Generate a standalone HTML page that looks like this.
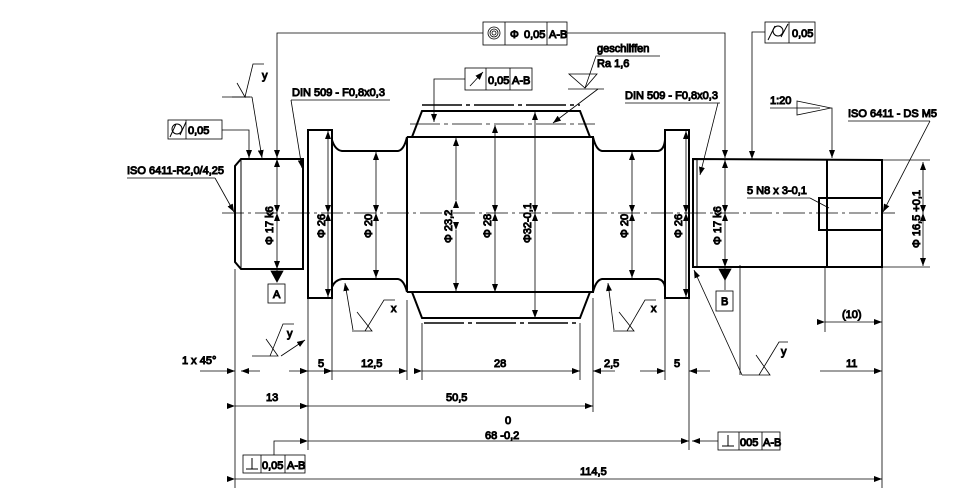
<!DOCTYPE html>
<html><head><meta charset="utf-8"><style>
html,body{margin:0;padding:0;background:#fff}
svg{display:block}
text{font-family:"Liberation Sans",sans-serif;font-size:11px;font-weight:normal;fill:#111}
</style></head><body>
<svg width="970" height="500" viewBox="0 0 970 500" xmlns="http://www.w3.org/2000/svg">
<defs>
<marker id="a" markerWidth="8" markerHeight="6" refX="8" refY="3" orient="auto" markerUnits="userSpaceOnUse"><path d="M0,0 L8,3 L0,6z" fill="#000"/></marker>
</defs>
<g fill="none" stroke="#000">
<line x1="222" y1="213" x2="895" y2="213" stroke-width="0.8" stroke-dasharray="22,4,3,4"/>
<g stroke-width="2">
<path d="M241,159 L303,159 L303,269 L241,269 L235,262 L235,166 Z"/>
<line x1="241" y1="159" x2="241" y2="269" stroke-width="1"/>
<rect x="308" y="130" width="24" height="168"/>
<path d="M332,140 Q335,150 342,151 L398,151 Q404,150 407,137 L407,292 Q404,280 398,279 L342,279 Q335,280 332,287"/>
<path d="M407,137 L593,137 L593,292 L407,292"/>
<path d="M412,137 L422,111 L580,111 L590,137"/>
<path d="M412,292 L422,318 L580,318 L590,292"/>
<path d="M593,137 Q596,150 602,151 L658,151 Q664,150 665,140"/>
<path d="M593,292 Q596,280 602,279 L658,279 Q664,280 665,287"/>
<rect x="665" y="130" width="24" height="168"/>
<path d="M693,159 L882,160 L882,267 L693,267 Z"/>
<line x1="827" y1="160" x2="827" y2="267"/>
<rect x="819" y="198" width="63" height="32"/>
</g>
<line x1="697" y1="159" x2="697" y2="267" stroke-width="1"/>
<line x1="422" y1="105" x2="580" y2="105" stroke-width="1.5" stroke-dasharray="40,4,4,4"/>
<line x1="410" y1="124" x2="595" y2="124" stroke-width="0.8" stroke-dasharray="30,4,4,4"/>
<line x1="424" y1="323" x2="580" y2="323" stroke-width="1.5" stroke-dasharray="40,4,4,4"/>
<g stroke-width="0.8" marker-start="url(#a)" marker-end="url(#a)">
<line x1="277" y1="213" x2="277" y2="159"/>
<line x1="277" y1="213" x2="277" y2="269"/>
<line x1="328" y1="213" x2="328" y2="131"/>
<line x1="328" y1="213" x2="328" y2="297"/>
<line x1="376" y1="213" x2="376" y2="152"/>
<line x1="376" y1="213" x2="376" y2="278"/>
<line x1="495" y1="213" x2="495" y2="125"/>
<line x1="495" y1="213" x2="495" y2="292"/>
<line x1="535" y1="213" x2="535" y2="112"/>
<line x1="535" y1="213" x2="535" y2="318"/>
<line x1="632" y1="213" x2="632" y2="152"/>
<line x1="632" y1="213" x2="632" y2="278"/>
<line x1="686" y1="213" x2="686" y2="131"/>
<line x1="686" y1="213" x2="686" y2="297"/>
<line x1="725" y1="213" x2="725" y2="160"/>
<line x1="725" y1="213" x2="725" y2="267"/>
<line x1="923" y1="213" x2="923" y2="162"/>
<line x1="923" y1="213" x2="923" y2="266"/>
<line x1="456" y1="200" x2="456" y2="138"/>
<line x1="456" y1="230" x2="456" y2="291"/>
</g>
<line x1="882" y1="160" x2="930" y2="160" stroke-width="0.8"/>
<line x1="882" y1="267" x2="930" y2="267" stroke-width="0.8"/>
<g stroke-width="0.8">
<polyline points="483,33 277,33 277,158" marker-end="url(#a)"/>
<polyline points="567,33 725,33 725,158" marker-end="url(#a)"/>
<rect x="483" y="22" width="84" height="23"/>
<line x1="505" y1="22" x2="505" y2="45"/><line x1="547" y1="22" x2="547" y2="45"/>
<circle cx="494" cy="33" r="6"/><circle cx="494" cy="33" r="4"/><circle cx="494" cy="33" r="2"/>
<rect x="465" y="68" width="67" height="22"/>
<line x1="486" y1="68" x2="486" y2="90"/><line x1="510" y1="68" x2="510" y2="90"/>
<line x1="470" y1="86" x2="483" y2="72" marker-end="url(#a)"/>
<polyline points="465,79 434,79 434,122" marker-end="url(#a)"/>
<rect x="765" y="22" width="50" height="21"/><line x1="789" y1="22" x2="789" y2="43"/>
<polyline points="765,32 752,32 752,159" marker-end="url(#a)"/>
<rect x="168" y="120" width="54" height="19"/><line x1="186" y1="120" x2="186" y2="139"/>
<polyline points="222,130 249,130 249,158" marker-end="url(#a)"/>
<line x1="291" y1="100" x2="390" y2="100"/>
<line x1="291" y1="100" x2="302" y2="168" marker-end="url(#a)"/>
<line x1="625" y1="103" x2="720" y2="103"/>
<line x1="718" y1="103" x2="700" y2="175" marker-end="url(#a)"/>
<line x1="127" y1="178" x2="215" y2="178"/>
<line x1="215" y1="178" x2="234" y2="212" marker-end="url(#a)"/>
<line x1="848" y1="121" x2="930" y2="121"/>
<line x1="930" y1="121" x2="883" y2="212" marker-end="url(#a)"/>
<line x1="747" y1="198" x2="810" y2="198"/><line x1="810" y1="198" x2="829" y2="208"/>
<!-- left top y symbol -->
<polyline points="232,97 250,97"/>
<polyline points="237,83 245,97 253,64 264,64"/>
<line x1="252" y1="97" x2="262" y2="158" marker-end="url(#a)"/>
<line x1="222" y1="97" x2="252" y2="97"/>
<path d="M569,74 L597,74 L585,88 Z"/>
<polyline points="585,88 596,56 660,56"/>
<line x1="568" y1="89" x2="604" y2="89"/>
<line x1="598" y1="89" x2="553" y2="123" marker-end="url(#a)"/>
<polyline points="770,108 820,108"/>
<path d="M797,101 L831,108 L797,115 Z"/>
<polyline points="831,108 832,108 832,158" marker-end="url(#a)"/>
<polyline points="352,331 372,331 357,312"/><polyline points="365,331 384,300 395,300"/>
<line x1="353" y1="330" x2="345" y2="283" marker-end="url(#a)"/>
<polyline points="613,331 634,331 619,312"/><polyline points="627,331 645,300 656,300"/>
<line x1="614" y1="330" x2="608" y2="283" marker-end="url(#a)"/>
<polyline points="252,356 278,356 266,339"/><polyline points="270,356 283,324 294,324"/>
<line x1="281" y1="356" x2="305" y2="340" marker-end="url(#a)"/>
<polyline points="742,375 770,375 756,355"/><polyline points="759,375 779,342 788,342"/>
<line x1="742" y1="375" x2="694" y2="270" marker-end="url(#a)"/>
<line x1="277" y1="269" x2="277" y2="282"/><path d="M271,271 L283,271 L277,282Z" fill="#000"/>
<rect x="268" y="284" width="17" height="19"/>
<line x1="725" y1="267" x2="725" y2="290"/><path d="M719,269 L731,269 L725,280Z" fill="#000"/>
<rect x="716" y="291" width="17" height="20"/>
<line x1="740" y1="265" x2="740" y2="375" />
<line x1="235" y1="269" x2="235" y2="488"/>
<line x1="308" y1="298" x2="308" y2="450"/>
<line x1="332" y1="298" x2="332" y2="380"/>
<line x1="407" y1="300" x2="407" y2="380"/>
<line x1="422" y1="323" x2="422" y2="380"/>
<line x1="580" y1="323" x2="580" y2="380"/>
<line x1="593" y1="298" x2="593" y2="412"/>
<line x1="665" y1="298" x2="665" y2="380"/>
<line x1="689" y1="298" x2="689" y2="450"/>
<line x1="882" y1="267" x2="882" y2="488"/>
<line x1="825" y1="267" x2="825" y2="332"/>
<g marker-start="url(#a)" marker-end="url(#a)">
<line x1="308" y1="371" x2="332" y2="371"/>
<line x1="332" y1="371" x2="407" y2="371"/>
<line x1="422" y1="371" x2="580" y2="371"/>
<line x1="235" y1="406" x2="308" y2="406"/>
<line x1="308" y1="406" x2="593" y2="406"/>
<line x1="308" y1="441" x2="689" y2="441"/>
<line x1="235" y1="479" x2="882" y2="479"/>
<line x1="825" y1="322" x2="882" y2="322"/>
</g>
<line x1="200" y1="371" x2="235" y2="371" marker-end="url(#a)"/>
<line x1="260" y1="371" x2="241" y2="371" marker-end="url(#a)"/>
<line x1="289" y1="371" x2="308" y2="371" marker-end="url(#a)"/>
<line x1="615" y1="371" x2="593" y2="371" marker-end="url(#a)"/>
<line x1="640" y1="371" x2="665" y2="371" marker-end="url(#a)"/>
<line x1="710" y1="371" x2="689" y2="371" marker-end="url(#a)"/>
<line x1="820" y1="371" x2="882" y2="371" marker-end="url(#a)"/>
<polyline points="274,455 274,441 305,441" />
<rect x="243" y="455" width="62" height="18"/><line x1="261" y1="455" x2="261" y2="473"/><line x1="285" y1="455" x2="285" y2="473"/>
<line x1="718" y1="441" x2="692" y2="441" marker-end="url(#a)"/>
<rect x="718" y="432" width="62" height="18"/><line x1="739" y1="432" x2="739" y2="450"/><line x1="762" y1="432" x2="762" y2="450"/>
</g>
<g stroke="#000" stroke-width="1" fill="none">
<line x1="246" y1="469" x2="258" y2="469"/><line x1="252" y1="458" x2="252" y2="469"/>
<line x1="722" y1="446" x2="734" y2="446"/><line x1="728" y1="435" x2="728" y2="446"/>
<circle cx="778" cy="31" r="5"/><line x1="768" y1="40" x2="775" y2="26"/><line x1="781" y1="37" x2="788" y2="24"/>
<circle cx="177" cy="129" r="5"/><line x1="170" y1="137" x2="176" y2="124"/><line x1="180" y1="135" x2="186" y2="122"/>
</g>
<text x="510" y="38">Φ</text><text x="524" y="38" font-size="10">0,05</text><text x="549" y="38" font-size="10">A-B</text>
<text x="488" y="84" font-size="10">0,05</text><text x="512" y="84" font-size="10">A-B</text>
<text x="792" y="37" font-size="10">0,05</text>
<text x="188" y="134" font-size="10">0,05</text>
<text x="262" y="469" font-size="10">0,05</text><text x="287" y="469" font-size="10">A-B</text>
<text x="740" y="446" font-size="10">005</text><text x="763" y="446" font-size="10">A-B</text>
<text x="292" y="96">DIN 509 - F0,8x0,3</text>
<text x="625" y="99">DIN 509 - F0,8x0,3</text>
<text x="597" y="52">geschliffen</text>
<text x="597" y="67">Ra  1,6</text>
<text x="770" y="104">1:20</text>
<text x="848" y="117">ISO 6411 - DS M5</text>
<text x="127" y="174">ISO 6411-R2,0/4,25</text>
<text x="747" y="194">5 N8 x 3-0,1</text>
<text x="262" y="79">y</text><text x="287" y="337">y</text><text x="781" y="355">y</text>
<text x="391" y="312">x</text><text x="651" y="312">x</text>
<text x="273" y="298">A</text><text x="721" y="305">B</text>
<text x="182" y="364">1 x 45°</text>
<text x="318" y="367">5</text><text x="361" y="367">12,5</text><text x="494" y="367">28</text>
<text x="604" y="367">2,5</text><text x="674" y="367">5</text><text x="846" y="367">11</text>
<text x="266" y="401">13</text><text x="446" y="401">50,5</text>
<text x="505" y="424">0</text><text x="485" y="439">68  -0,2</text>
<text x="580" y="475">114,5</text>
<text x="842" y="318">(10)</text>
<text transform="translate(273,245) rotate(-90)">Φ  17  k6</text>
<text transform="translate(325,238) rotate(-90)">Φ  26</text>
<text transform="translate(372,238) rotate(-90)">Φ  20</text>
<text transform="translate(452,243) rotate(-90)">Φ  23,2</text>
<text transform="translate(491,238) rotate(-90)">Φ  28</text>
<text transform="translate(531,243) rotate(-90)">Φ32-0,1</text>
<text transform="translate(628,238) rotate(-90)">Φ  20</text>
<text transform="translate(682,238) rotate(-90)">Φ  26</text>
<text transform="translate(721,245) rotate(-90)">Φ  17  k6</text>
<text transform="translate(920,248) rotate(-90)">Φ  16,5 +0,1</text>
</svg>
</body></html>
